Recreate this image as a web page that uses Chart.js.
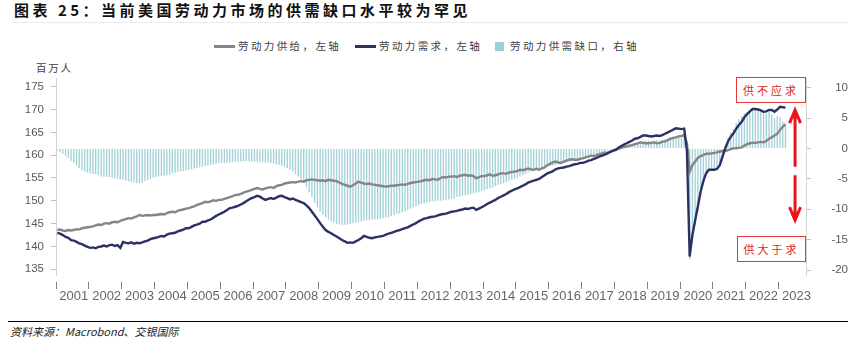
<!DOCTYPE html>
<html>
<head>
<meta charset="utf-8">
<script src="https://cdn.jsdelivr.net/npm/chart.js@4.4.0/dist/chart.umd.min.js"></script>
<style>
  body { margin: 0; width: 848px; height: 341px; overflow: hidden; position: relative; background: #fff;
         font-family: "Noto Sans CJK SC", "Noto Sans", sans-serif; }
  #title { position: absolute; left: 14px; top: 0; font-size: 15px; font-weight: 700; letter-spacing: 3.5px;
           color: #111; line-height: 20px; white-space: nowrap; }
  #rule { position: absolute; left: 12px; right: 0; top: 22px; height: 1px; background: #ececec; }
  .lg { position: absolute; top: 38px; font-size: 10.5px; letter-spacing: 2.4px; color: #404040; line-height: 16px; white-space: nowrap; }
  .lgline { position: absolute; top: 45px; width: 21px; height: 3px; }
  #unit { position: absolute; left: 36px; top: 61px; font-size: 10.5px; letter-spacing: 1.8px; color: #404040; line-height: 14px; }
  #wrap { position: absolute; left: 0; top: 0; width: 848px; height: 310px; }
  .note { position: absolute; border: 1px solid #e23a3a; background: #fff; color: #e01e1e; font-size: 11px;
          letter-spacing: 3px; text-align: center; box-sizing: border-box; white-space: nowrap; }
  #foot { position: absolute; left: 8px; right: 0; top: 321px; height: 1px; background: #000; }
  #src { position: absolute; left: 10px; top: 324px; font-size: 11px; font-style: italic; color: #222; line-height: 14px; }
</style>
</head>
<body>
<div id="title">图表 25：当前美国劳动力市场的供需缺口水平较为罕见</div>
<div id="rule"></div>

<div class="lgline" style="left:214px;background:#858585"></div>
<div class="lg" style="left:238px">劳动力供给，左轴</div>
<div class="lgline" style="left:355px;background:#2b3263"></div>
<div class="lg" style="left:379px">劳动力需求，左轴</div>
<div style="position:absolute;left:495px;top:42px;width:9px;height:9px;background:#9ccfd6"></div>
<div class="lg" style="left:510px">劳动力供需缺口，右轴</div>
<div id="unit">百万人</div>

<div id="wrap"><canvas id="gapChart" width="848" height="310"></canvas></div>

<div class="note" style="left:736px;top:77px;width:70px;height:26px;line-height:24px">供不应求</div>
<div class="note" style="left:737px;top:236px;width:69px;height:26px;line-height:24px">供大于求</div>

<div id="foot"></div>
<div id="src">资料来源：Macrobond、交银国际</div>

<script>
const YEARS = ['2001', '2002', '2003', '2004', '2005', '2006', '2007', '2008', '2009', '2010', '2011', '2012',
               '2013', '2014', '2015', '2016', '2017', '2018', '2019', '2020', '2021', '2022', '2023'];
const MONTHS = ['01', '02', '03', '04', '05', '06', '07', '08', '09', '10', '11', '12'];
const AXIS_END = '2023-10';
const LEFT_TICKS = [135, 140, 145, 150, 155, 160, 165, 170, 175];
const RIGHT_TICKS = [-20, -15, -10, -5, 0, 5, 10];

// 劳动力供给 (百万人), monthly from 2001-01
const supply = [
  143.6, 143.7, 143.5, 143.4, 143.6, 143.5, 143.6, 143.8, 143.7, 144.0, 144.1, 144.2,
  144.3, 144.4, 144.6, 144.8, 144.7, 145.0, 145.1, 145.0, 145.3, 145.4, 145.3, 145.6,
  145.8, 146.0, 146.2, 146.1, 146.4, 146.6, 146.9, 146.7, 146.8, 146.9, 146.8, 146.9,
  146.9, 147.0, 147.1, 147.0, 147.3, 147.5, 147.6, 147.5, 147.8, 148.0, 148.1, 148.3,
  148.4, 148.6, 148.8, 149.1, 149.3, 149.5, 149.8, 149.7, 149.9, 150.1, 150.0, 150.2,
  150.2, 150.4, 150.6, 150.8, 151.0, 151.3, 151.3, 151.5, 151.8, 152.0, 152.2, 152.4,
  152.6, 152.8, 152.6, 152.5, 152.7, 152.9, 153.0, 152.8, 153.2, 153.4, 153.5, 153.8,
  153.9, 154.0, 154.1, 154.0, 154.2, 154.3, 154.2, 154.5, 154.6, 154.7, 154.6, 154.5,
  154.4, 154.5, 154.3, 154.6, 154.5, 154.4, 154.3, 154.0, 153.7, 153.5, 153.3, 153.1,
  153.4, 153.8, 154.2, 154.0, 153.8, 153.7, 153.8, 153.6, 153.5, 153.4, 153.3, 153.2,
  153.1, 153.2, 153.3, 153.3, 153.4, 153.5, 153.6, 153.5, 153.7, 153.9, 154.0, 154.1,
  154.2, 154.3, 154.5, 154.6, 154.5, 154.8, 154.7, 154.6, 155.0, 155.2, 155.1, 155.3,
  155.3, 155.4, 155.2, 155.5, 155.6, 155.7, 155.5, 155.6, 155.4, 154.9, 155.2, 155.4,
  155.4, 155.6, 155.8, 155.5, 155.6, 155.8, 156.0, 156.0, 155.9, 156.2, 156.3, 156.4,
  156.5, 156.8, 156.7, 156.9, 157.1, 156.9, 156.8, 157.0, 156.8, 157.1, 157.3, 157.8,
  158.1, 158.4, 158.6, 158.4, 158.3, 158.6, 158.8, 159.0, 159.1, 159.0, 159.0, 159.2,
  159.3, 159.5, 159.7, 159.9, 159.8, 160.0, 160.2, 160.4, 160.6, 160.5, 160.8, 161.0,
  161.1, 161.4, 161.6, 161.8, 161.9, 162.1, 162.2, 162.4, 162.6, 162.8, 162.7, 162.6,
  162.6, 162.7, 162.8, 162.6, 162.7, 162.9, 163.0, 163.3, 163.6, 163.8, 163.9, 164.1,
  164.2, 164.4, 162.6, 156.4, 157.8, 158.6, 159.4, 159.8, 160.0, 160.3, 160.3, 160.4,
  160.5, 160.6, 160.8, 160.9, 160.9, 161.1, 161.3, 161.5, 161.5, 161.6, 161.7, 162.1,
  162.4, 162.6, 162.7, 162.7, 162.8, 162.9, 162.8, 163.1, 163.6, 163.9, 164.3, 164.7,
  165.5, 166.2, 166.8
];

// 劳动力需求 (百万人)
const demand = [
  143.0, 142.8, 142.5, 142.1, 141.9, 141.4, 141.3, 141.0, 140.7, 140.5, 140.2, 139.9,
  139.7, 139.8, 139.6, 139.9, 140.0, 140.2, 140.0, 140.3, 140.4, 140.1, 140.3, 139.7,
  141.0, 140.8, 140.7, 140.9, 140.6, 140.8, 140.7, 140.9, 141.1, 141.3, 141.6, 141.8,
  141.9, 142.1, 142.3, 142.2, 142.6, 142.8, 142.9, 143.0, 143.3, 143.5, 143.7, 144.0,
  144.0, 144.3, 144.6, 144.8, 145.0, 145.4, 145.4, 145.7, 145.9, 146.3, 146.7, 147.0,
  147.3, 147.6, 148.0, 148.4, 148.5, 148.7, 148.9, 149.2, 149.5, 149.9, 150.3, 150.6,
  150.8, 151.1, 150.9, 150.5, 150.2, 150.4, 150.6, 150.4, 150.7, 151.0, 151.1, 150.8,
  150.6, 150.3, 150.5, 150.2, 150.0, 149.7, 149.5, 149.0, 148.4, 147.6, 146.8, 146.0,
  145.1, 144.3, 143.6, 143.2, 142.9, 142.5, 142.2, 141.8, 141.4, 141.1, 140.8, 140.9,
  140.8, 141.1, 141.4, 141.8, 142.3, 142.1, 141.9, 141.8, 142.0, 142.1, 142.2, 142.3,
  142.6, 142.8, 143.0, 143.2, 143.4, 143.6, 143.8, 144.0, 144.2, 144.5, 144.8, 145.1,
  145.5, 145.8, 146.1, 146.2, 146.4, 146.5, 146.6, 146.8, 147.0, 147.1, 147.2, 147.4,
  147.6, 147.7, 147.8, 148.0, 148.1, 148.3, 148.2, 148.4, 148.5, 148.0, 148.3, 148.6,
  148.9, 149.3, 149.6, 149.9, 150.2, 150.6, 150.9, 151.2, 151.5, 151.9, 152.2, 152.5,
  152.7, 153.0, 153.3, 153.6, 154.0, 154.2, 154.4, 154.6, 154.8, 155.2, 155.6, 156.0,
  156.2, 156.5, 156.9, 157.1, 157.2, 157.3, 157.5, 157.6, 157.8, 158.0, 158.1, 158.3,
  158.3, 158.5, 158.8, 158.9, 159.2, 159.4, 159.7, 159.9, 160.1, 160.4, 160.7, 161.0,
  161.2, 161.6, 162.0, 162.3, 162.6, 162.9, 163.2, 163.6, 163.7, 164.0, 164.3, 164.3,
  164.2, 164.1, 164.2, 164.3, 164.2, 164.4, 164.7, 165.0, 165.3, 165.6, 165.9, 165.8,
  165.7, 165.8, 161.0, 137.8, 142.5, 145.7, 148.8, 152.0, 154.3, 156.0, 156.8, 156.8,
  156.8, 157.0, 157.8, 159.7, 161.5, 163.0, 164.0, 164.8, 165.8, 166.6, 167.3, 168.3,
  169.0, 169.6, 170.1, 170.1, 170.0, 169.8, 169.5, 169.6, 169.9, 169.9, 169.5, 170.0,
  170.6, 170.5, 170.4
];

// 劳动力供需缺口 (百万人, 右轴)
const gap = [
  -0.3, -0.6, -0.9, -1.2, -1.6, -2.0, -2.4, -2.8, -3.2, -3.6, -3.8, -4.0,
  -4.1, -4.2, -4.2, -4.4, -4.6, -4.6, -4.7, -4.7, -4.8, -4.9, -5.0, -5.1,
  -5.2, -5.3, -5.4, -5.5, -5.6, -5.7, -5.7, -5.6, -5.4, -5.2, -5.0, -4.8,
  -4.7, -4.6, -4.5, -4.5, -4.4, -4.3, -4.1, -4.0, -3.9, -3.8, -3.7, -3.6,
  -3.5, -3.4, -3.3, -3.2, -3.1, -3.0, -2.9, -2.8, -2.7, -2.6, -2.5, -2.4,
  -2.4, -2.4, -2.3, -2.3, -2.2, -2.2, -2.2, -2.1, -2.1, -2.1, -2.1, -2.2,
  -2.2, -2.2, -2.3, -2.2, -2.3, -2.3, -2.4, -2.5, -2.6, -2.7, -2.9, -3.0,
  -3.2, -3.5, -3.8, -4.2, -4.6, -5.1, -5.7, -6.4, -7.2, -8.0, -8.9, -9.7,
  -10.4, -10.9, -11.3, -11.7, -12.0, -12.2, -12.4, -12.5, -12.6, -12.6, -12.5, -12.4,
  -12.3, -12.2, -12.1, -12.0, -11.9, -11.8, -11.8, -11.7, -11.7, -11.6, -11.6, -11.5,
  -11.4, -11.3, -11.1, -11.0, -10.8, -10.7, -10.5, -10.3, -10.1, -9.9, -9.7, -9.5,
  -9.3, -9.1, -9.0, -8.9, -8.8, -8.7, -8.7, -8.6, -8.6, -8.5, -8.5, -8.4,
  -8.3, -8.2, -8.0, -7.9, -7.8, -7.7, -7.6, -7.5, -7.4, -7.3, -7.2, -7.0,
  -6.9, -6.7, -6.6, -6.4, -6.2, -6.0, -5.9, -5.7, -5.5, -5.3, -5.2, -5.0,
  -4.8, -4.6, -4.4, -4.2, -4.0, -3.8, -3.6, -3.4, -3.3, -3.2, -3.1, -3.0,
  -2.9, -2.8, -2.7, -2.6, -2.5, -2.4, -2.3, -2.2, -2.1, -2.0, -1.9, -1.8,
  -1.7, -1.6, -1.5, -1.3, -1.1, -0.9, -0.8, -0.6, -0.5, -0.3, -0.2, -0.1,
  0.1, 0.2, 0.3, 0.4, 0.5, 0.7, 0.8, 0.9, 1.0, 1.1, 1.2, 1.3,
  1.3, 1.2, 1.3, 1.4, 1.3, 1.4, 1.5, 1.6, 1.7, 1.8, 1.9, 1.8,
  1.7, 1.6, -1.4, -18.2, -14.8, -12.6, -10.4, -7.8, -5.8, -4.4, -3.7, -3.7,
  -3.7, -3.6, -3.0, -1.3, 0.5, 1.8, 2.6, 3.2, 4.2, 4.8, 5.3, 5.8,
  6.0, 6.3, 6.5, 6.6, 6.4, 6.1, 6.2, 5.7, 6.0, 5.6, 5.0, 5.3,
  5.1, 4.5, 3.8
];

// arrow annotation: category position and right-axis values (tail, tip)
const ARROW_AT = 269.5;
const ARROW_UP = [-3.0, 6.3];
const ARROW_DOWN = [-4.4, -11.8];

const months = [];
YEARS.forEach(y => MONTHS.forEach(m => months.push(y + '-' + m)));
const labels = months.slice(0, months.indexOf(AXIS_END) + 1);

Chart.defaults.font.family = '"Liberation Sans", Arial, sans-serif';

const arrowPlugin = {
    id: 'gapArrows',
    afterDraw(chart) {
        const ctx = chart.ctx;
        const x = chart.scales.x.getPixelForValue(ARROW_AT);
        const y2 = chart.scales.y2;
        const drawArrow = (from, to) => {
            const y0 = y2.getPixelForValue(from);
            const y1 = y2.getPixelForValue(to);
            const dir = y1 < y0 ? 1 : -1;
            ctx.save();
            ctx.strokeStyle = '#e8141b';
            ctx.lineWidth = 3;
            ctx.beginPath();
            ctx.moveTo(x, y0);
            ctx.lineTo(x, y1 + dir * 1);
            ctx.moveTo(x - 5.5, y1 + dir * 13);
            ctx.lineTo(x, y1);
            ctx.lineTo(x + 5.5, y1 + dir * 13);
            ctx.stroke();
            ctx.restore();
        };
        drawArrow(ARROW_UP[0], ARROW_UP[1]);
        drawArrow(ARROW_DOWN[0], ARROW_DOWN[1]);
    }
};

const gapCtx = document.getElementById('gapChart').getContext('2d');
const gapChart = new Chart(gapCtx, {
    type: 'bar',
    data: {
        labels: labels,
        datasets: [{
            type: 'line',
            label: '劳动力供给，左轴',
            data: supply,
            yAxisID: 'y',
            borderColor: '#858585',
            borderWidth: 2.4,
            pointRadius: 0,
            tension: 0,
            order: 2
        }, {
            type: 'line',
            label: '劳动力需求，左轴',
            data: demand,
            yAxisID: 'y',
            borderColor: '#2b3263',
            borderWidth: 2.4,
            pointRadius: 0,
            tension: 0,
            order: 1
        }, {
            label: '劳动力供需缺口，右轴',
            data: gap,
            yAxisID: 'y2',
            backgroundColor: '#a3d2d8',
            barPercentage: 0.5,
            categoryPercentage: 1.0,
            order: 3
        }]
    },
    options: {
        responsive: false,
        animation: false,
        layout: { padding: { top: 78, left: 0, right: 0, bottom: 0 } },
        plugins: { legend: { display: false }, tooltip: { enabled: false } },
        scales: {
            x: {
                grid: {
                    offset: true,
                    drawOnChartArea: false,
                    tickLength: 14,
                    tickBorderDash: [0, 7, 7, 100],
                    tickColor: c => (c.index % 12 === 0 ? '#7f7f7f' : 'rgba(0,0,0,0)')
                },
                border: { display: false },
                ticks: {
                    autoSkip: false,
                    maxRotation: 0,
                    minRotation: 0,
                    padding: 0,
                    color: '#666666',
                    font: { size: 13 },
                    callback: (v, i) => (labels[i].endsWith('-07') ? labels[i].slice(0, 4) : '')
                },
                afterFit: s => { s.height = 35; }
            },
            y: {
                position: 'left',
                min: 133.75,
                max: 176.9,
                afterBuildTicks: s => { s.ticks = LEFT_TICKS.map(v => ({ value: v })); },
                grid: { drawOnChartArea: false, tickLength: 5, color: '#bfbfbf' },
                border: { color: '#d4d4d4' },
                ticks: { color: '#595959', font: { size: 11.5 }, padding: 7 },
                afterFit: s => { s.width = 56; }
            },
            y2: {
                position: 'right',
                min: -20.82,
                max: 11.6,
                afterBuildTicks: s => { s.ticks = RIGHT_TICKS.map(v => ({ value: v })); },
                grid: { drawOnChartArea: false, tickLength: 5, color: '#bfbfbf' },
                border: { color: '#d4d4d4' },
                ticks: { color: '#595959', font: { size: 11.5 }, padding: 4, crossAlign: 'far' },
                afterFit: s => { s.width = 42; }
            }
        }
    },
    plugins: [arrowPlugin]
});
</script>
</body>
</html>
